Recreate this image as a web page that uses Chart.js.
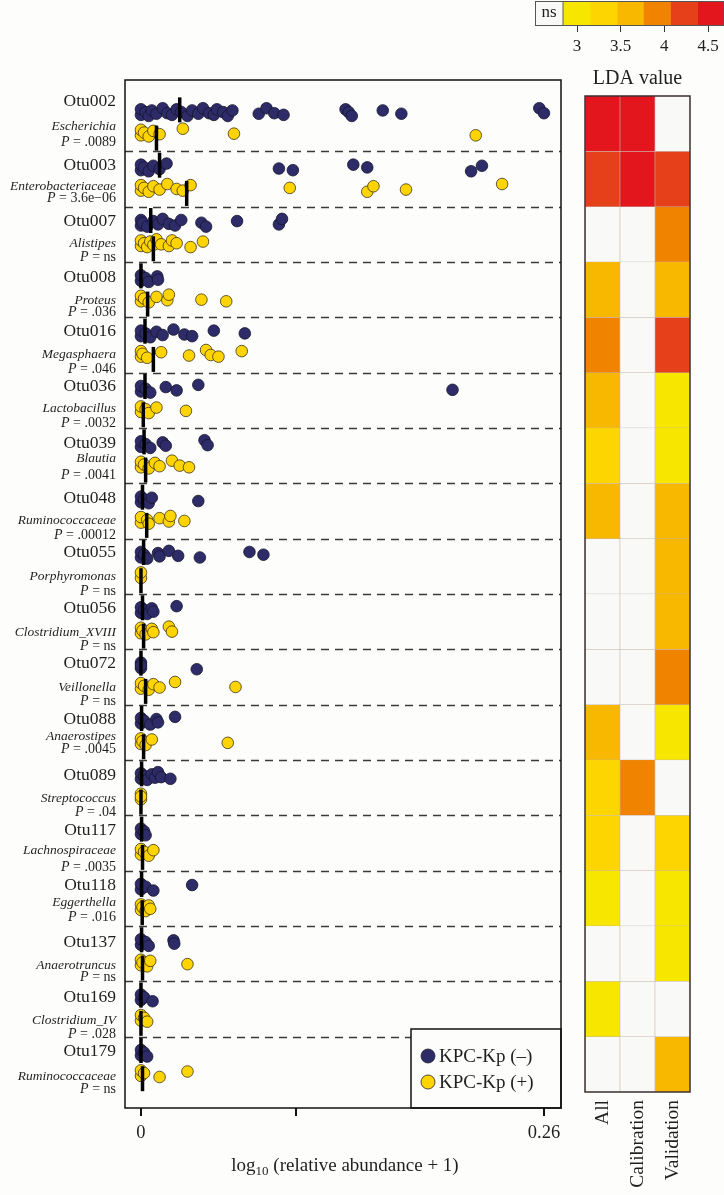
<!DOCTYPE html>
<html>
<head>
<meta charset="utf-8">
<script src="https://cdn.jsdelivr.net/npm/chart.js@4.4.1/dist/chart.umd.min.js"></script>
<style>
  html, body { margin: 0; padding: 0; background: #fdfdfb; }
  #page { position: relative; width: 724px; height: 1195px; overflow: hidden; }
  canvas { position: absolute; }
</style>
</head>
<body>
<div id="page">
  <canvas id="scatter" width="724" height="1195" style="left:0;top:0"></canvas>
  <canvas id="heat" width="164" height="1135" style="left:560px;top:60px"></canvas>
  <canvas id="strip" width="194" height="60" style="left:530px;top:0"></canvas>
</div>
<script>
// 
// Data (log10 relative abundance + 1 per sample).
// 
var OTU_IDS = ['Otu002', 'Otu003', 'Otu007', 'Otu008', 'Otu016', 'Otu036',
    'Otu039', 'Otu048', 'Otu055', 'Otu056', 'Otu072', 'Otu088', 'Otu089',
    'Otu117', 'Otu118', 'Otu137', 'Otu169', 'Otu179'];
var GENERA = ['Escherichia', 'Enterobacteriaceae', 'Alistipes', 'Proteus',
    'Megasphaera', 'Lactobacillus', 'Blautia', 'Ruminococcaceae',
    'Porphyromonas', 'Clostridium_XVIII', 'Veillonella', 'Anaerostipes',
    'Streptococcus', 'Lachnospiraceae', 'Eggerthella', 'Anaerotruncus',
    'Clostridium_IV', 'Ruminococcaceae'];
var P_VALUES = ['.0089', '3.6e\u221206', 'ns', '.036', '.046', '.0032', '.0041',
    '.00012', 'ns', 'ns', 'ns', '.0045', '.04', '.0035', '.016', 'ns', '.028', 'ns'];

var SERIES_NAMES = ['KPC-Kp (\u2013)', 'KPC-Kp (+)'];

// KPC-Kp (-) samples
var NEG_VALUES = [
    [0, 0, 0.003, 0.005, 0.007, 0.010, 0.014, 0.017, 0.020, 0.023, 0.026, 0.030,
        0.033, 0.037, 0.040, 0.044, 0.047, 0.049, 0.053, 0.056, 0.059, 0.076,
        0.081, 0.086, 0.092, 0.132, 0.134, 0.136, 0.156, 0.168, 0.257, 0.260],
    [0, 0, 0.002, 0.005, 0.008, 0.012, 0.0165, 0.089, 0.098, 0.137, 0.146, 0.213, 0.220],
    [0, 0, 0.001, 0.004, 0.008, 0.011, 0.014, 0.018, 0.022, 0.026, 0.039, 0.042, 0.062, 0.089, 0.091],
    [0, 0, 0.003, 0.005, 0.0105, 0.011],
    [0, 0, 0.003, 0.006, 0.010, 0.014, 0.021, 0.028, 0.033, 0.047, 0.067],
    [0, 0, 0.003, 0.006, 0.016, 0.023, 0.037, 0.201],
    [0, 0, 0.003, 0.006, 0.014, 0.016, 0.041, 0.043],
    [0, 0, 0.002, 0.005, 0.007, 0.037],
    [0, 0, 0.002, 0.004, 0.011, 0.012, 0.018, 0.024, 0.038, 0.070, 0.079],
    [0, 0, 0.002, 0.004, 0.007, 0.008, 0.023],
    [0, 0, 0, 0.036],
    [0, 0, 0.002, 0.006, 0.010, 0.011, 0.022],
    [0, 0, 0.002, 0.004, 0.007, 0.009, 0.011, 0.013, 0.019],
    [0, 0, 0.002, 0.003],
    [0, 0, 0.003, 0.008, 0.033],
    [0, 0, 0.003, 0.005, 0.021, 0.0215],
    [0, 0, 0.002, 0.0075],
    [0, 0, 0.002, 0.004]
];

// KPC-Kp (+) samples
var POS_VALUES = [
    [0, 0, 0.002, 0.005, 0.008, 0.012, 0.027, 0.060, 0.216],
    [0, 0, 0.002, 0.005, 0.008, 0.012, 0.017, 0.023, 0.027, 0.032, 0.096, 0.146, 0.150, 0.171, 0.233],
    [0, 0, 0.002, 0.004, 0.006, 0.008, 0.010, 0.013, 0.018, 0.020, 0.023, 0.032, 0.040],
    [0, 0, 0.002, 0.005, 0.010, 0.017, 0.018, 0.039, 0.055],
    [0, 0, 0.001, 0.004, 0.013, 0.031, 0.042, 0.045, 0.050, 0.065],
    [0, 0, 0.003, 0.005, 0.010, 0.029],
    [0, 0, 0.002, 0.005, 0.009, 0.012, 0.020, 0.025, 0.031],
    [0, 0, 0.004, 0.005, 0.012, 0.018, 0.019, 0.028],
    [0, 0],
    [0, 0, 0.001, 0.003, 0.007, 0.008, 0.018, 0.020],
    [0, 0, 0.002, 0.005, 0.008, 0.012, 0.022, 0.061],
    [0, 0, 0.001, 0.003, 0.007, 0.056],
    [0, 0, 0],
    [0, 0, 0.002, 0.005, 0.008],
    [0, 0, 0.001, 0.003, 0.005, 0.006],
    [0, 0, 0.001, 0.004, 0.006, 0.030],
    [0, 0, 0.002, 0.004],
    [0, 0, 0.002, 0.012, 0.030]
];

var NEG_MEDIAN = [0.025, 0.012, 0.0063, 0, 0.0026, 0.0026, 0.002, 0.001, 0.0017,
    0.001, 0, 0.0004, 0.0004, 0.0004, 0.0004, 0.0004, 0, 0];
var POS_MEDIAN = [0.010, 0.0295, 0.008, 0.0043, 0.008, 0.0015, 0.003, 0.0037, 0,
    0.0017, 0.003, 0.0017, 0, 0.001, 0.0008, 0.001, 0, 0.001];

// LDA scores, null = not significant
var HEAT_COLUMNS = ['All', 'Calibration', 'Validation'];
var LDA_ALL = [4.55, 4.25, null, 3.62, 3.95, 3.58, 3.31, 3.60, null, null, null,
    3.55, 3.30, 3.28, 3.02, null, 3.05, null];
var LDA_CAL = [4.52, 4.50, null, null, null, null, null, null, null, null, null,
    null, 3.90, null, null, null, null, null];
var LDA_VAL = [null, 4.20, 3.92, 3.60, 4.25, 3.00, 3.05, 3.58, 3.60, 3.62, 3.90,
    3.00, null, 3.30, 3.02, 3.00, null, 3.60];

var LDA_BREAKS = [2.84, 3.15, 3.46, 3.76, 4.07, 4.38, 4.683];
var LDA_TICKS = [3, 3.5, 4, 4.5];
var LDA_TICK_LABELS = ['3', '3.5', '4', '4.5'];

var X_TICKS = [0, 0.1, 0.26];
var X_TICK_LABELS = ['0', '', '0.26'];

// 
// Look and layout.
// 
var SERIF = '"Liberation Serif", "Times New Roman", serif';
var TEXT = '#1f1f1f';
var NAVY = '#2e2c68';
var YELLOW = '#ffd400';
var BAND_COLORS = ['#f6e600', '#fdd500', '#f9b800', '#f08400', '#e5401a', '#e3151d'];
var NS_COLOR = '#f9f9f7';
var JITTER = [0.05, -0.05, 0.0, 0.07, -0.03, 0.03, -0.07, 0.02];
// y offsets (px from group top) of the id, genus and P lines
var LABEL_DY = [[5, 30, 46], [14, 35, 47], [15, 37, 51], [15, 38, 50], [14, 37, 52],
    [14, 36, 51], [15, 30, 47], [15, 37, 52], [14, 38, 53], [14, 38, 52], [14, 38, 52],
    [15, 32, 45], [15, 38, 52], [15, 35, 52], [15, 32, 47], [16, 39, 51], [16, 39, 53],
    [15, 40, 53]];

function ldaColor(v) {
    if (v === null) {
        return NS_COLOR;
    }
    for (var i = 0; i < BAND_COLORS.length; ++i) {
        if (v < LDA_BREAKS[i + 1]) {
            return BAND_COLORS[i];
        }
    }
    return BAND_COLORS[BAND_COLORS.length - 1];
}

function rowPoints(groups, offset) {
    var pts = [];
    groups.forEach(function (vals, k) {
        vals.forEach(function (v, i) {
            pts.push({x: v, y: k + offset + JITTER[i % JITTER.length]});
        });
    });
    return pts;
}

function medianPoints() {
    var pts = [];
    for (var k = 0; k < OTU_IDS.length; ++k) {
        pts.push({x: NEG_MEDIAN[k], y: k + 0.25});
        pts.push({x: POS_MEDIAN[k], y: k + 0.76});
    }
    return pts;
}

// 
// Separators, frame, labels and the legend box for the abundance plot.
// 
var scatterDecor = {
    id: 'scatterDecor',
    beforeDatasetsDraw: function (chart) {
        var ctx = chart.ctx, a = chart.chartArea, y = chart.scales.y;
        ctx.save();
        ctx.strokeStyle = '#3a3a3a';
        ctx.lineWidth = 1.3;
        ctx.setLineDash([8, 6]);
        for (var k = 1; k < OTU_IDS.length; ++k) {
            var py = Math.round(y.getPixelForValue(k)) + 0.5;
            ctx.beginPath();
            ctx.moveTo(a.left, py);
            ctx.lineTo(a.right, py);
            ctx.stroke();
        }
        ctx.restore();
    },
    afterDraw: function (chart) {
        var ctx = chart.ctx, a = chart.chartArea, y = chart.scales.y;
        ctx.save();

        // legend box
        var bx = 411, by = 1029;
        ctx.fillStyle = '#fdfdfb';
        ctx.fillRect(bx, by, a.right - bx, a.bottom - by);
        ctx.strokeStyle = '#111';
        ctx.lineWidth = 1.5;
        ctx.strokeRect(bx, by, a.right - bx, a.bottom - by);
        [NAVY, YELLOW].forEach(function (c, i) {
            var cy = 1056 + i * 26;
            ctx.beginPath();
            ctx.arc(428, cy, 7, 0, Math.PI * 2);
            ctx.fillStyle = c;
            ctx.fill();
            ctx.lineWidth = 0.8;
            ctx.strokeStyle = '#222';
            ctx.stroke();
            ctx.fillStyle = TEXT;
            ctx.font = '19px ' + SERIF;
            ctx.textAlign = 'left';
            ctx.textBaseline = 'middle';
            ctx.fillText(SERIES_NAMES[i], 439, cy + 1);
        });

        // frame
        ctx.strokeStyle = '#111';
        ctx.lineWidth = 1.5;
        ctx.strokeRect(a.left, a.top, a.right - a.left, a.bottom - a.top);

        // group labels
        ctx.fillStyle = TEXT;
        ctx.textAlign = 'right';
        ctx.textBaseline = 'middle';
        var lx = 116;
        OTU_IDS.forEach(function (id, k) {
            var top = y.getPixelForValue(k), dy = LABEL_DY[k];
            ctx.font = '17.5px ' + SERIF;
            ctx.fillText(id, lx, top + dy[0]);
            ctx.font = 'italic 13.5px ' + SERIF;
            ctx.fillText(GENERA[k], lx, top + dy[1]);
            ctx.font = '14px ' + SERIF;
            var rest = ' = ' + P_VALUES[k];
            var w = ctx.measureText(rest).width;
            ctx.fillText(rest, lx, top + dy[2]);
            ctx.font = 'italic 14px ' + SERIF;
            ctx.fillText('P', lx - w, top + dy[2]);
        });

        // axis title with subscript
        var t1 = 'log', t2 = '10', t3 = ' (relative abundance + 1)';
        ctx.font = '19px ' + SERIF;
        var w1 = ctx.measureText(t1).width, w3 = ctx.measureText(t3).width;
        ctx.font = '13px ' + SERIF;
        var w2 = ctx.measureText(t2).width;
        var x0 = 345 - (w1 + w2 + w3) / 2, ty = 1165;
        ctx.textAlign = 'left';
        ctx.textBaseline = 'alphabetic';
        ctx.font = '19px ' + SERIF;
        ctx.fillText(t1, x0, ty + 6);
        ctx.font = '13px ' + SERIF;
        ctx.fillText(t2, x0 + w1, ty + 10);
        ctx.font = '19px ' + SERIF;
        ctx.fillText(t3, x0 + w1 + w2, ty + 6);
        ctx.restore();
    }
};

new Chart(document.getElementById('scatter'), {
    type: 'scatter',
    data: {
        datasets: [
            {
                label: 'median',
                data: medianPoints(),
                pointStyle: 'line',
                rotation: 90,
                radius: 12.5,
                borderWidth: 3.5,
                borderColor: '#000',
                backgroundColor: '#000'
            },
            {
                label: SERIES_NAMES[1],
                data: rowPoints(POS_VALUES, 0.66),
                radius: 5.8,
                borderWidth: 0.8,
                borderColor: '#3a3418',
                backgroundColor: YELLOW
            },
            {
                label: SERIES_NAMES[0],
                data: rowPoints(NEG_VALUES, 0.29),
                radius: 5.8,
                borderWidth: 0.8,
                borderColor: '#14142c',
                backgroundColor: NAVY
            }
        ]
    },
    options: {
        responsive: false,
        animation: false,
        devicePixelRatio: 1,
        layout: {padding: {left: 125, top: 80, right: 163, bottom: 0}},
        plugins: {legend: {display: false}, tooltip: {enabled: false}},
        scales: {
            x: {
                type: 'linear',
                min: -0.0103,
                max: 0.271,
                afterBuildTicks: function (s) {
                    s.ticks = X_TICKS.map(function (v) {
                        return {value: v};
                    });
                },
                afterFit: function (s) {
                    s.height = 87;
                },
                ticks: {
                    autoSkip: false,
                    maxRotation: 0,
                    padding: 6,
                    color: TEXT,
                    font: {family: SERIF, size: 18.5},
                    callback: function (v, i) {
                        return X_TICK_LABELS[i];
                    }
                },
                grid: {drawOnChartArea: false, tickLength: 8, color: '#111', lineWidth: 2},
                border: {display: false}
            },
            y: {
                type: 'linear',
                display: false,
                reverse: true,
                min: -0.29,
                max: 18.29
            }
        }
    },
    plugins: [scatterDecor]
});

// 
// LDA heatmap: one stacked bar per OTU in each column.
// 
var heatDecor = {
    id: 'heatDecor',
    afterDraw: function (chart) {
        var ctx = chart.ctx, a = chart.chartArea;
        ctx.save();
        ctx.strokeStyle = '#3b3230';
        ctx.lineWidth = 1.5;
        ctx.strokeRect(a.left, a.top, a.right - a.left, a.bottom - a.top);
        ctx.fillStyle = TEXT;
        ctx.font = '20px ' + SERIF;
        ctx.textAlign = 'center';
        ctx.textBaseline = 'middle';
        ctx.fillText('LDA value', (a.left + a.right) / 2, 19);
        ctx.restore();
    }
};

new Chart(document.getElementById('heat'), {
    type: 'bar',
    data: {
        labels: HEAT_COLUMNS,
        datasets: OTU_IDS.map(function (id, k) {
            return {
                label: id,
                data: [1, 1, 1],
                backgroundColor: [ldaColor(LDA_ALL[k]), ldaColor(LDA_CAL[k]), ldaColor(LDA_VAL[k])],
                borderColor: '#c4b5ad',
                borderWidth: 0.6,
                barPercentage: 1,
                categoryPercentage: 1
            };
        })
    },
    options: {
        responsive: false,
        animation: false,
        devicePixelRatio: 1,
        layout: {padding: {left: 25, right: 34, top: 36, bottom: 0}},
        plugins: {legend: {display: false}, tooltip: {enabled: false}},
        scales: {
            x: {
                stacked: true,
                grid: {display: false},
                border: {display: false},
                afterFit: function (s) {
                    s.height = 103;
                },
                ticks: {
                    minRotation: 90,
                    maxRotation: 90,
                    padding: 0,
                    color: TEXT,
                    font: {family: SERIF, size: 19.5}
                }
            },
            y: {stacked: true, display: false, reverse: true, min: 0, max: 18}
        }
    },
    plugins: [heatDecor]
});

// 
// Colour key for the LDA bands.
// 
var stripDecor = {
    id: 'stripDecor',
    afterDraw: function (chart) {
        var ctx = chart.ctx, a = chart.chartArea, x = chart.scales.x;
        var nsRight = x.getPixelForValue(LDA_BREAKS[0]);
        ctx.save();
        ctx.strokeStyle = '#555';
        ctx.lineWidth = 1;
        ctx.strokeRect(a.left + 0.5, a.top + 0.5, a.right - a.left - 1, a.bottom - a.top - 1);
        ctx.beginPath();
        ctx.moveTo(nsRight, a.top);
        ctx.lineTo(nsRight, a.bottom);
        ctx.stroke();
        ctx.fillStyle = TEXT;
        ctx.font = '17px ' + SERIF;
        ctx.textAlign = 'center';
        ctx.textBaseline = 'middle';
        ctx.fillText('ns', (a.left + nsRight) / 2, (a.top + a.bottom) / 2 - 1);
        ctx.restore();
    }
};

var stripSets = [{
    label: 'ns',
    data: [[LDA_TICKS[0] - 0.481, LDA_BREAKS[0]]],
    backgroundColor: NS_COLOR,
    grouped: false,
    barPercentage: 1,
    categoryPercentage: 1
}];
BAND_COLORS.forEach(function (c, i) {
    stripSets.push({
        label: 'band' + i,
        data: [[LDA_BREAKS[i], LDA_BREAKS[i + 1]]],
        backgroundColor: c,
        grouped: false,
        barPercentage: 1,
        categoryPercentage: 1
    });
});

new Chart(document.getElementById('strip'), {
    type: 'bar',
    data: {labels: ['LDA'], datasets: stripSets},
    options: {
        indexAxis: 'y',
        responsive: false,
        animation: false,
        devicePixelRatio: 1,
        layout: {padding: {left: 5, right: 0, top: 1, bottom: 0}},
        plugins: {legend: {display: false}, tooltip: {enabled: false}},
        scales: {
            x: {
                type: 'linear',
                min: LDA_TICKS[0] - 0.481,
                max: LDA_BREAKS[LDA_BREAKS.length - 1],
                afterBuildTicks: function (s) {
                    s.ticks = LDA_TICKS.map(function (v) {
                        return {value: v};
                    });
                },
                afterFit: function (s) {
                    s.height = 34;
                },
                ticks: {
                    autoSkip: false,
                    maxRotation: 0,
                    padding: 4,
                    color: TEXT,
                    font: {family: SERIF, size: 17},
                    callback: function (v, i) {
                        return LDA_TICK_LABELS[i];
                    }
                },
                grid: {drawOnChartArea: false, tickLength: 6, color: '#333', lineWidth: 1},
                border: {display: false}
            },
            y: {display: false}
        }
    },
    plugins: [stripDecor]
});
</script>
</body>
</html>
